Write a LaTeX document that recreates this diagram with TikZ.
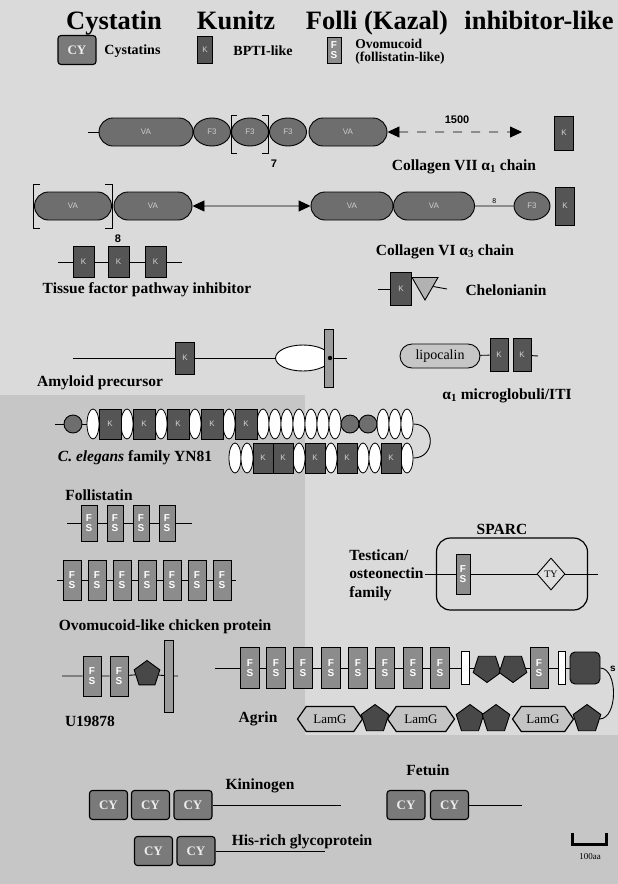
\documentclass[tikz,border=0pt]{standalone}
\usepackage{fontspec}
\setmainfont{Liberation Serif}
\setsansfont{Liberation Sans}
\usetikzlibrary{shapes.geometric,shapes.misc,shapes.symbols,arrows.meta}

\definecolor{bglite}{HTML}{DADADA}
\definecolor{bgdark}{HTML}{C6C6C6}
\definecolor{kundark}{HTML}{555555}
\definecolor{coldom}{HTML}{6E6E6E}
\definecolor{fsgray}{HTML}{8C8C8C}
\definecolor{cygray}{HTML}{7A7A7A}
\definecolor{lamgray}{HTML}{C4C4C4}
\definecolor{pentdark}{HTML}{484848}
\definecolor{bargray}{HTML}{9C9C9C}

\newcommand{\lblfont}{\fontsize{15.5}{18.5}\selectfont\bfseries}
\newcommand{\legfont}{\fontsize{14}{14.5}\selectfont\bfseries}
\newcommand{\ttlfont}{\fontsize{26.5}{28}\selectfont\bfseries}

\begin{document}
\begin{tikzpicture}[x=1pt, y=-1pt, line width=0.9pt,
  ttl/.style={font=\ttlfont, inner sep=0pt, anchor=base},
  lbl/.style={font=\lblfont, inner sep=0pt},
  leg/.style={font=\legfont, inner sep=0pt, anchor=west, align=left},
  kbox/.style={draw, fill=kundark, minimum width=19, minimum height=32, inner sep=0pt,
    font=\sffamily\fontsize{8}{8}\selectfont, text=gray!35},
  fsbox/.style={draw, fill=fsgray, minimum width=17, minimum height=38, inner sep=0pt,
    align=center, font=\sffamily\bfseries\fontsize{10}{10.5}\selectfont, text=white},
  cybox/.style={draw, line width=1.1pt, rounded corners=3pt, fill=cygray, minimum width=38,
    minimum height=29, inner sep=0pt, font=\bfseries\fontsize{13}{13}\selectfont, text=gray!15},
  capsule/.style={rounded rectangle, draw, fill=coldom, minimum height=28, inner sep=0pt,
    font=\sffamily\fontsize{8}{8}\selectfont, text=gray!40},
  fndom/.style={ellipse, draw, fill=coldom, minimum width=37, minimum height=28, inner sep=0pt,
    font=\sffamily\fontsize{8}{8}\selectfont, text=gray!40},
  wrep/.style={ellipse, draw, line width=0.8pt, fill=white, minimum width=12, minimum height=30, inner sep=0pt},
  ball/.style={circle, draw, fill=coldom, minimum size=18, inner sep=0pt},
  pentup/.style={regular polygon, regular polygon sides=5, draw, fill=pentdark, minimum size=29, inner sep=0pt},
  pentdown/.style={pentup, shape border rotate=180},
  lamg/.style={signal, signal to=west and east, signal pointer angle=110, draw, line width=1.2pt,
    fill=lamgray, minimum height=25, inner sep=1pt, font=\fontsize{13}{13}\selectfont},
  tmbar/.style={draw, fill=bargray, minimum width=9, inner sep=0pt},
  whbar/.style={draw, fill=white, minimum width=8, minimum height=33, inner sep=0pt},
  brk/.style={line width=1pt},
  dtip/.style={arrows={Triangle[length=12pt,width=11pt]-Triangle[length=12pt,width=11pt]}}]

\path[use as bounding box] (0,0) rectangle (618,884);
\fill[bglite] (0,0) rectangle (618,884);
\fill[bgdark] (0,395) rectangle (305,735);
\fill[bgdark] (0,735) rectangle (618,884);

% families
\node[ttl] (tcys) at (114,29) {Cystatin};
\node[ttl] (tkun) at (236,29) {Kunitz};
\node[ttl] (tfol) at (377,29) {Folli (Kazal)};
\node[ttl] (tinh) at (539,29) {inhibitor-like};

% legend
\node[cybox] (lcy) at (77,50) {CY};
\node[leg] (lcyt) at (104,51) {Cystatins};
\node[kbox, minimum width=15, minimum height=27] (lk) at (205,50) {K};
\node[leg] (lkt) at (233,51) {BPTI-like};
\node[fsbox, minimum width=14, minimum height=26] (lfs) at (334,50) {F\\S};
\node[leg, font=\fontsize{13.5}{13}\selectfont\bfseries] (lfst) at (355,52) {Ovomucoid\\(follistatin-like)};

% collagen VII
\coordinate (c7s) at (88,132);
\node[capsule, minimum width=94] (c7a) at (146,132) {VA};
\node[fndom] (c7b) at (212,132) {F3};
\node[fndom] (c7c) at (250,132) {F3};
\node[fndom] (c7d) at (288,132) {F3};
\node[capsule, minimum width=78] (c7e) at (348,132) {VA};
\coordinate (c7r) at (522,132);
\node[kbox, minimum height=34] (c7k) at (564,133) {K};
\draw (c7s) -- (c7a);
\draw[dtip, dash pattern=on 9pt off 9pt] (c7e) -- (c7r);
\node[font=\sffamily\bfseries\fontsize{11}{11}\selectfont] (n1500) at (457,120) {1500};
\draw[brk] (237,115) -- (231,115) -- (231,153) -- (237,153);
\draw[brk] (262,115) -- (268,115) -- (268,153) -- (262,153);
\node[font=\sffamily\bfseries\fontsize{11}{11}\selectfont] (n7) at (274,164) {7};
\node[lbl] (c7t) at (464,167) {Collagen VII α\textsubscript{1} chain};

% collagen VI
\node[capsule, minimum width=77] (c6a) at (73,206) {VA};
\node[capsule, minimum width=78] (c6b) at (153,206) {VA};
\node[capsule, minimum width=82] (c6c) at (352,206) {VA};
\node[capsule, minimum width=81] (c6d) at (434,206) {VA};
\node[fndom, minimum width=36] (c6f) at (532,206) {F3};
\node[kbox, minimum height=38] (c6k) at (565,206) {K};
\draw[dtip] (c6b) -- (c6c);
\draw (c6d) -- (c6f) node[midway, above=-1pt, font=\sffamily\fontsize{7}{7}\selectfont] (n8s) {8};
\draw[brk] (40,184) -- (33,184) -- (33,228) -- (40,228);
\draw[brk] (105,184) -- (112,184) -- (112,228) -- (105,228);
\node[font=\sffamily\bfseries\fontsize{11}{11}\selectfont] (n8) at (118,239) {8};
\node[lbl] (c6t) at (445,252) {Collagen VI α\textsubscript{3} chain};

% tissue factor pathway inhibitor
\coordinate (tfs) at (58,262);
\coordinate (tfe) at (182,262);
\node[kbox, minimum width=21, minimum height=31] (tf1) at (83.5,262) {K};
\node[kbox, minimum width=21, minimum height=31] (tf2) at (118.5,262) {K};
\node[kbox, minimum width=21, minimum height=31] (tf3) at (155.5,262) {K};
\draw (tfs) -- (tf1) -- (tf2) -- (tf3) -- (tfe);
\node[lbl] (tft) at (147,290) {Tissue factor pathway inhibitor};

% chelonianin
\coordinate (chs) at (378,289);
\coordinate (che) at (447,289);
\node[kbox, minimum width=21, minimum height=33] (chk) at (401,289) {K};
\node[regular polygon, regular polygon sides=3, shape border rotate=180, draw, fill=gray!60,
  minimum size=30, inner sep=0pt] (chw) at (425,285) {};
\draw (chs) -- (chk);
\draw (chw) -- (che);
\node[lbl] (cht) at (506,290) {Chelonianin};

% amyloid precursor
\coordinate (ams) at (73,358);
\coordinate (ame) at (347,358);
\node[kbox, minimum height=32] (amk) at (185,358) {K};
\node[ellipse, draw, fill=white, minimum width=55, minimum height=26, inner sep=0pt] (ame1) at (303,358) {};
\draw (ams) -- (amk) -- (ame1);
\node[tmbar, minimum height=58] (amb) at (329,358) {};
\draw (amb) -- (ame);
\fill (330,358) circle (2.2);
\node[lbl] (amt) at (100,383) {Amyloid precursor};

% alpha1 microglobulin / ITI
\node[rounded rectangle, draw, fill=gray!45, minimum width=84, minimum height=24, inner sep=2pt,
  font=\fontsize{14}{14}\selectfont] (lip) at (440,356) {lipocalin};
\node[kbox, minimum width=18, minimum height=33] (lk1) at (499,355) {K};
\node[kbox, minimum width=18, minimum height=33] (lk2) at (522,355) {K};
\coordinate (lie) at (538,356);
\draw (lip) -- (lk1);
\draw (lk2) -- (lie);
\node[lbl] (lit) at (507,396) {α\textsubscript{1} microglobuli/ITI};

% C. elegans YN81
\coordinate (yas) at (55,424);
\node[ball] (ya0) at (73,424) {};
\foreach \x [count=\i] in {93,127,161,195,229,263,275,287,299,311,323,335,383,395,407}
  \node[wrep] (yae\i) at (\x,424) {};
\foreach \x [count=\i] in {110,144,178,212,246}
  \node[kbox, minimum width=22, minimum height=30] (yak\i) at (\x,424) {K};
\node[ball] (yac1) at (350,424) {};
\node[ball] (yac2) at (368,424) {};
\draw (yas) -- (ya0) -- (yae1);
\foreach \x [count=\i] in {235,247,299,331,363,375,407}
  \node[wrep] (ybe\i) at (\x,458) {};
\foreach \x [count=\i] in {263,283,315,347,391}
  \node[kbox, minimum width=20, minimum height=30] (ybk\i) at (\x,458) {K};
\draw (yae15.east) to[out=0, in=0, looseness=1.7] (ybe7.east);
\node[lbl] (yat) at (135,458) {\textit{C. elegans} family YN81};

% follistatin
\node[lbl, anchor=west] (fot) at (65,495) {Follistatin};
\coordinate (fos) at (67,523);
\coordinate (foe) at (192,523);
\foreach \x [count=\i] in {89,115,141,167}
  \node[fsbox, minimum width=16, minimum height=36] (fo\i) at (\x,523) {F\\S};
\draw (fos) -- (fo1) -- (fo2) -- (fo3) -- (fo4) -- (foe);

% ovomucoid-like chicken protein
\coordinate (ovs) at (57,580);
\coordinate (ove) at (236,580);
\foreach \x [count=\i] in {72,97,122,147,172,197,222}
  \node[fsbox, minimum width=18, minimum height=40] (ov\i) at (\x,580) {F\\S};
\draw (ovs) -- (ov1) -- (ov2) -- (ov3) -- (ov4) -- (ov5) -- (ov6) -- (ov7) -- (ove);
\node[lbl] (ovt) at (165,627) {Ovomucoid-like chicken protein};

% SPARC / testican
\node[draw, line width=1.2pt, rounded corners=14pt, minimum width=151, minimum height=72,
  inner sep=0pt] (sparc) at (512,574) {};
\node[lbl] (spt) at (502,529) {SPARC};
\node[lbl, align=left, anchor=west] (tst) at (349,575) {Testican/\\osteonectin\\family};
\coordinate (sps) at (425,574);
\coordinate (spe) at (598,574);
\node[fsbox, minimum width=14, minimum height=40] (spf) at (463,574) {F\\S};
\node[diamond, draw, fill=gray!25, minimum width=28, minimum height=32, inner sep=0pt,
  font=\fontsize{10}{10}\selectfont] (spy) at (551,574) {TY};
\draw (sps) -- (spf) -- (spy) -- (spe);

% U19878
\coordinate (uas) at (62,676);
\coordinate (uae) at (178,676);
\node[fsbox, minimum width=18, minimum height=40] (ua1) at (92,676) {F\\S};
\node[fsbox, minimum width=18, minimum height=40] (ua2) at (119,676) {F\\S};
\node[pentup, minimum size=27] (uap) at (147,674) {};
\node[tmbar, minimum height=72] (uab) at (169,676) {};
\draw (uas) -- (ua1) -- (ua2) -- (uap) -- (uab) -- (uae);
\node[lbl] (uat) at (90,721) {U19878};

% agrin
\coordinate (ags) at (215,668);
\foreach \x [count=\i] in {250,276,303,331,358,385,413,440}
  \node[fsbox, minimum width=19, minimum height=41] (agf\i) at (\x,668) {F\\S};
\node[whbar] (agw1) at (465,668) {};
\node[pentdown] (agp1) at (487,668) {};
\node[pentdown] (agp2) at (513,668) {};
\node[fsbox, minimum width=18, minimum height=41] (agf9) at (539,668) {F\\S};
\node[whbar, minimum width=7] (agw2) at (562,668) {};
\node[draw, fill=pentdark, rounded corners=5pt, minimum width=30, minimum height=32, inner sep=0pt] (agd) at (585,668) {};
\draw (ags) -- (agf1) -- (agf2) -- (agf3) -- (agf4) -- (agf5) -- (agf6) -- (agf7) -- (agf8)
  -- (agw1) -- (agp1) -- (agp2) -- (agf9) -- (agw2) -- (agd);
\node[lamg, minimum width=65] (agl1) at (330,719) {LamG};
\node[pentup] (agq1) at (375,719) {};
\node[lamg, minimum width=67] (agl2) at (421,719) {LamG};
\node[pentup] (agq2) at (470,719) {};
\node[pentup] (agq3) at (496,719) {};
\node[lamg, minimum width=61] (agl3) at (543,719) {LamG};
\node[pentup] (agq4) at (587,719) {};
\draw (agd.east) .. controls (618,669) and (618,718) .. (agq4.east);
\node[font=\sffamily\bfseries\fontsize{10}{10}\selectfont, inner sep=0pt] (ags9) at (613,669) {s};
\node[lbl] (agt) at (258,719) {Agrin};

% kininogen
\node[cybox] (ki1) at (108.5,805) {CY};
\node[cybox] (ki2) at (150.5,805) {CY};
\node[cybox] (ki3) at (193,805) {CY};
\coordinate (kie) at (341,805);
\draw (ki3) -- (kie);
\node[lbl] (kit) at (260,786) {Kininogen};

% fetuin
\node[cybox] (fe1) at (406,805) {CY};
\node[cybox] (fe2) at (449.5,805) {CY};
\coordinate (fee) at (522,805);
\draw (fe2) -- (fee);
\node[lbl] (fet) at (428,770) {Fetuin};

% his-rich glycoprotein
\node[cybox] (hr1) at (153.5,851) {CY};
\node[cybox] (hr2) at (196,851) {CY};
\coordinate (hre) at (325,851);
\draw (hr2) -- (hre);
\node[lbl] (hrt) at (302,842) {His-rich glycoprotein};

% scale
\draw[line width=3pt] (572,833) -- (572,844) -- (606,844) -- (606,833);
\node[font=\fontsize{9}{9}\selectfont] (sct) at (590,857) {100aa};
\end{tikzpicture}
\end{document}
